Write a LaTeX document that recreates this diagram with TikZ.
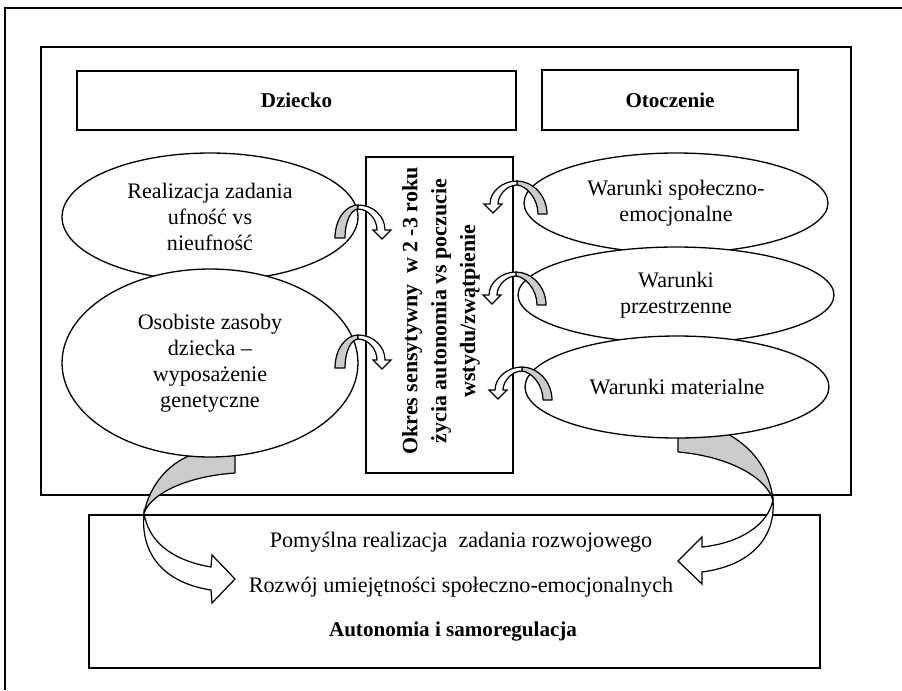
\documentclass[tikz,border=0pt]{standalone}
\usepackage{fontspec}
\setmainfont{Liberation Serif}
\usetikzlibrary{shapes.geometric}
\definecolor{bandgray}{RGB}{204,204,204}
\tikzset{
  framebox/.style={draw, line width=1.2pt, inner sep=0pt},
  headbox/.style={draw, line width=1pt, inner sep=0pt,
    font=\fontsize{12pt}{14.4pt}\selectfont\bfseries},
  oval/.style={ellipse, draw, fill=white, line width=0.75pt, inner sep=0pt,
    align=center, font=\fontsize{12.6pt}{14.8pt}\selectfont},
  bodytext/.style={inner sep=0pt, font=\fontsize{12.6pt}{14.8pt}\selectfont},
  boldtext/.style={inner sep=0pt, font=\fontsize{12pt}{14.4pt}\selectfont\bfseries},
  backband/.style={draw, fill=bandgray, line width=0.7pt, line join=round},
  frontband/.style={draw, fill=white, line width=0.7pt, line join=miter},
  % curved block arrow: grey leg on the left, head pointing down on the right
  turnleft/.pic={
    \draw[backband] (-23,33) .. controls (-23,14) and (-12,0) .. (0,0)
      -- (0,4) .. controls (-8,5) and (-13,18) .. (-13,33) -- cycle;
    \draw[frontband] (0,0) .. controls (15,0) and (27,11) .. (27,25)
      -- (33,25) -- (24,34) -- (15,25) -- (19,25)
      .. controls (19,14) and (10,4) .. (0,4) -- cycle;
  },
  % the same arrow turned the other way
  turnright/.pic={
    \draw[backband] (30,33) .. controls (30,14) and (15,0) .. (0,0)
      -- (0,4) .. controls (10,5) and (21,18) .. (21,33) -- cycle;
    \draw[frontband] (0,0) .. controls (-15,0) and (-27,11) .. (-27,23)
      -- (-33,23) -- (-24,32) -- (-15,23) -- (-19,23)
      .. controls (-19,14) and (-10,4) .. (0,4) -- cycle;
  },
}
\begin{document}
\begin{tikzpicture}[x=0.02cm, y=-0.02cm]
\useasboundingbox (0,0) rectangle (902,690);
\fill[white] (0,0) rectangle (902,690);

% page frame
\draw[line width=1.2pt] (5,690) -- (5,8) -- (902,8);

% inner frame and header boxes
\node[framebox, minimum width=16.2cm, minimum height=8.96cm] (inner) at (446,271) {};
\node[headbox, minimum width=8.78cm, minimum height=1.18cm] (child) at (296.5,100.5) {Dziecko};
\node[headbox, minimum width=5.12cm, minimum height=1.2cm] (env) at (670,100) {Otoczenie};

% sensitive period box
\node[draw, line width=0.8pt, minimum width=2.94cm, minimum height=6.32cm] (period) at (439.5,315) {};
\node[rotate=90, align=center, inner sep=0pt,
  font=\fontsize{12.5pt}{16.5pt}\selectfont\bfseries] (periodtext) at (441,311)
  {Okres sensytywny~ w 2 -3 roku\\życia autonomia vs poczucie\\wstydu/zwątpienie};

% outcome box
\node[framebox, minimum width=14.62cm, minimum height=3.06cm] (outcome) at (454.5,591.5) {};
\node[bodytext] (task) at (461,542) {Pomyślna realizacja~ zadania rozwojowego};
\node[bodytext] (skills) at (461,587) {Rozwój umiejętności społeczno-emocjonalnych};
\node[boldtext] (autonomy) at (453,632) {Autonomia i samoregulacja};

% large arrows into the outcome box
\draw[backband] (235,445) -- (235,473) .. controls (190,476) and (152,492) .. (144,513)
  .. controls (150,484) and (170,460) .. (200,452) -- (200,445) -- cycle;
\draw[frontband] (144,513) .. controls (148,540) and (170,560) .. (211,567)
  -- (212,555) -- (235,579) -- (212,603) -- (211,590)
  .. controls (165,583) and (140,555) .. (144,513) -- cycle;

\draw[backband] (678,428) -- (678,452) .. controls (725,456) and (765,475) .. (773,500)
  .. controls (770,470) and (752,446) .. (724,432) -- cycle;
\draw[frontband] (773,500) .. controls (768,525) and (740,543) .. (702,547)
  -- (702,537) -- (678,561) -- (702,584) -- (702,572)
  .. controls (748,566) and (776,540) .. (773,500) -- cycle;

% child side
\node[oval, minimum width=5.92cm, minimum height=2.56cm] (trust) at (210,217)
  {Realizacja zadania\\ufność vs\\nieufność};
\node[oval, minimum width=5.92cm, minimum height=3.76cm] (genes) at (210,363)
  {Osobiste zasoby\\dziecka –\\wyposażenie\\genetyczne};

% environment side
\node[oval, minimum width=6.08cm, minimum height=2.0cm] (social) at (676,203)
  {Warunki społeczno-\\emocjonalne};
\node[oval, minimum width=6.32cm, minimum height=1.92cm] (spatial) at (676,295)
  {Warunki\\przestrzenne};
\node[oval, minimum width=6.08cm, minimum height=2.04cm] (material) at (677,387)
  {Warunki materialne};

% small curved arrows towards the period box
\pic (ta) at (358,205) {turnleft};
\pic (ga) at (358,335) {turnleft};
\pic (sa) at (517,181) {turnright};
\pic (pa) at (516,272) {turnright};
\pic (ma) at (522,367) {turnright};
\end{tikzpicture}
\end{document}
